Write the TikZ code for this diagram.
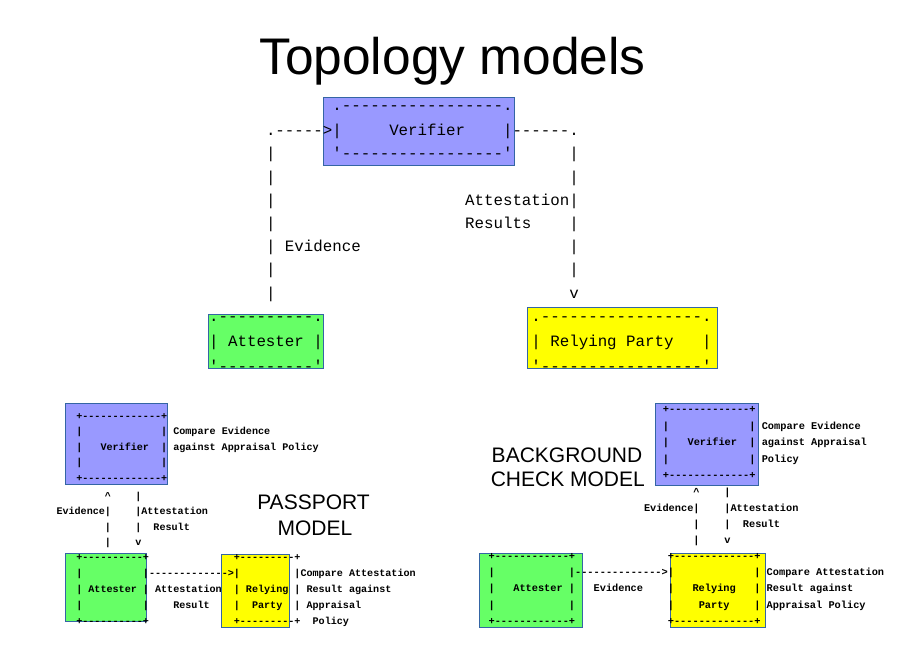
\documentclass[tikz,border=0pt]{standalone}
\usepackage{fontspec}
\setsansfont{Liberation Sans}
\setmonofont{Liberation Mono}
\newcommand\sps[1]{\hskip#1\fontcharwd\font`0\relax}
\newcommand\aq{\char"27\relax}
\newcommand\ct{\char"5E\relax}
\definecolor{vblue}{HTML}{9999FF}
\definecolor{agreen}{HTML}{66FF66}
\definecolor{ryellow}{HTML}{FFFF00}
\definecolor{bline}{HTML}{3465A4}
\frenchspacing
\begin{document}
\begin{tikzpicture}[x=1pt,y=-1pt,
  boxv/.style={fill=vblue,draw=bline,line width=1pt},
  boxa/.style={fill=agreen,draw=bline,line width=1pt},
  boxr/.style={fill=ryellow,draw=bline,line width=1pt},
  asc/.style={anchor=base west,inner sep=0pt,outer sep=0pt,font=\fontsize{15.8}{18}\selectfont\ttfamily},
  sml/.style={anchor=base west,inner sep=0pt,outer sep=0pt,font=\fontsize{10.1}{12}\selectfont\ttfamily\bfseries},
  smr/.style={anchor=base west,inner sep=0pt,outer sep=0pt,font=\fontsize{10.3}{12}\selectfont\ttfamily\bfseries},
  ttl/.style={anchor=base,inner sep=0pt,font=\fontsize{51.5}{60}\selectfont\sffamily},
  mdl/.style={anchor=base,inner sep=0pt,font=\fontsize{21}{25}\selectfont\sffamily}]
\useasboundingbox[fill=white] (0,0) rectangle (900,652);

% title
\node[ttl] (title) at (452.5,75) {Topology models};

% ---------- top diagram boxes ----------
\filldraw[boxv] (323,98) rectangle (514,166);
\filldraw[boxa] (208,315) rectangle (323,369);
\filldraw[boxr] (527,308) rectangle (717,369);

\node[asc] (t0) at (332.4,111) {.-----------------.};
\node[asc] (t1) at (266,135.7) {.----->|\sps5Verifier\sps4|------.};
\node[asc] (t2) at (266,158.9) {|\sps6\aq-----------------\aq\sps6|};
\node[asc] (t3) at (266,182.1) {|\sps{31}|};
\node[asc] (t4) at (266,205.3) {|\sps{20}Attestation|};
\node[asc] (t5) at (266,228.5) {|\sps{20}Results\sps4|};
\node[asc] (t6) at (266,251.7) {|\sps1Evidence\sps{22}|};
\node[asc] (t7) at (266,274.9) {|\sps{31}|};
\node[asc] (t8) at (266,298.1) {|\sps{31}v};

\node[asc] (at0) at (209.1,322) {.----------.};
\node[asc] (at1) at (209.1,346.5) {|\sps1Attester\sps1|};
\node[asc] (at2) at (209.1,371) {\aq----------\aq};

\node[asc] (rp0) at (531.4,322) {.-----------------.};
\node[asc] (rp1) at (531.4,346.5) {|\sps1Relying\sps1Party\sps3|};
\node[asc] (rp2) at (531.4,371) {\aq-----------------\aq};

% ---------- passport model ----------
\filldraw[boxv] (65.5,403.3) rectangle (167.3,484.5);
\filldraw[boxa] (65.7,553.3) rectangle (146.7,621);
\filldraw[boxr] (221.7,554) rectangle (289.3,627.3);

\node[sml] (pv0) at (76.3,419) {+-------------+};
\node[sml] (pv1) at (76.3,434.5) {|\sps{13}|\sps1Compare\sps1Evidence};
\node[sml] (pv2) at (76.3,450) {|\sps3Verifier\sps2|\sps1against\sps1Appraisal\sps1Policy};
\node[sml] (pv3) at (76.3,465.5) {|\sps{13}|};
\node[sml] (pv4) at (76.3,481) {+-------------+};

\node[sml] (pm0) at (56.5,499) {\sps8\ct\sps4|};
\node[sml] (pm1) at (56.5,514.5) {Evidence|\sps4|Attestation};
\node[sml] (pm2) at (56.5,530) {\sps8|\sps4|\sps2Result};
\node[sml] (pm3) at (56.5,545) {\sps8|\sps4v};

\node[sml] (pa0) at (76.3,560) {+----------+\sps{14}+---------+};
\node[sml] (pa1) at (76.3,576) {|\sps{10}|------------->|\sps9|Compare\sps1Attestation};
\node[sml] (pa2) at (76.3,592) {|\sps1Attester\sps1|\sps1Attestation\sps2|\sps1Relying\sps1|\sps1Result\sps1against};
\node[sml] (pa3) at (76.3,608) {|\sps{10}|\sps4Result\sps4|\sps2Party\sps2|\sps1Appraisal};
\node[sml] (pa4) at (76.3,624) {+----------+\sps{14}+---------+\sps2Policy};

\node[mdl] (pp1) at (313.5,509.3) {PASSPORT};
\node[mdl] (pp2) at (315,535) {MODEL};

% ---------- background check model ----------
\filldraw[boxv] (655.7,403.3) rectangle (758.7,485.7);
\filldraw[boxa] (479.3,553.3) rectangle (582.7,627.3);
\filldraw[boxr] (670,553.3) rectangle (765.3,627.3);

\node[smr] (bv0) at (662.9,412.5) {+-------------+};
\node[smr] (bv1) at (662.9,429) {|\sps{13}|\sps1Compare\sps1Evidence};
\node[smr] (bv2) at (662.9,445.5) {|\sps3Verifier\sps2|\sps1against\sps1Appraisal};
\node[smr] (bv3) at (662.9,462) {|\sps{13}|\sps1Policy};
\node[smr] (bv4) at (662.9,478.5) {+-------------+};

\node[smr] (bm0) at (644,495.5) {\sps8\ct\sps4|};
\node[smr] (bm1) at (644,511.3) {Evidence|\sps4|Attestation};
\node[smr] (bm2) at (644,527.1) {\sps8|\sps4|\sps2Result};
\node[smr] (bm3) at (644,543) {\sps8|\sps4v};

\node[smr] (ba0) at (488.6,559.5) {+------------+\sps{15}+-------------+};
\node[smr] (ba1) at (488.6,575.7) {|\sps{12}|-------------->|\sps{13}|\sps1Compare\sps1Attestation};
\node[smr] (ba2) at (488.6,591.9) {|\sps3Attester\sps1|\sps3Evidence\sps4|\sps3Relying\sps3|\sps1Result\sps1against};
\node[smr] (ba3) at (488.6,608.1) {|\sps{12}|\sps{15}|\sps4Party\sps4|\sps1Appraisal\sps1Policy};
\node[smr] (ba4) at (488.6,624.3) {+------------+\sps{15}+-------------+};

\node[mdl] (bg1) at (567,462) {BACKGROUND};
\node[mdl] (bg2) at (567.8,486) {CHECK MODEL};
\end{tikzpicture}
\end{document}
